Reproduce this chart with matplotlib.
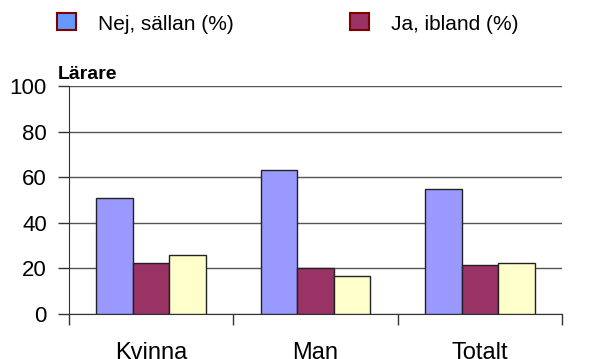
import numpy as np
import matplotlib
matplotlib.use("Agg")
from matplotlib import pyplot as plt
from matplotlib.patches import Rectangle

plt.rcParams.update({'font.family': ['Liberation Sans', 'DejaVu Sans']})

categories = ['Kvinna', 'Man', 'Totalt']
nej_sallan = [51, 63, 55]
ja_ibland = [22.5, 20, 21.5]
ja_ofta = [26, 16.5, 22.5]

fig = plt.figure(figsize=(5.99, 3.59), dpi=100)
ax = fig.add_axes([69 / 599, 1 - 314 / 359, (562 - 69) / 599, (314 - 86) / 359])

x = np.arange(len(categories))
w = 0.223
colors = ['#9999FF', '#993366', '#FFFFCC']
for i, (vals, c) in enumerate(zip([nej_sallan, ja_ibland, ja_ofta], colors)):
    ax.bar(x + (i - 1) * w, vals, width=w, color=c, edgecolor='#222222',
           linewidth=1, zorder=3)

ax.set_xlim(-0.5, 2.5)
ax.set_ylim(0, 100)
ax.set_yticks(range(0, 101, 20))
ax.yaxis.grid(True, color='#555555', linewidth=1, zorder=0)
ax.set_xticks([-0.5, 0.5, 1.5, 2.5])
ax.set_xticklabels([])
ax.set_xticks(x, minor=True)
ax.set_xticklabels(categories, minor=True, fontsize=17)
ax.tick_params(axis='x', which='minor', length=0, pad=20)
ax.tick_params(axis='x', which='major', length=8, width=1, color='#333333')
ax.tick_params(axis='y', length=8, width=1, color='#333333', labelsize=16, pad=8)
for s in ['top', 'right']:
    ax.spines[s].set_visible(False)
for s in ['left', 'bottom']:
    ax.spines[s].set_color('#333333')

fig.text(58 / 599, 1 - 79 / 359, 'Lärare', fontsize=14, fontweight='bold',
         va='baseline', ha='left')

# legend drawn by hand: two entries only
legend_items = [('Nej, sällan (%)', '#6699FF', 57, 98),
                ('Ja, ibland (%)', '#993366', 350, 391)]
for label, fc, sx, tx in legend_items:
    fig.patches.append(Rectangle((sx / 599, 1 - 30 / 359), 19 / 599, 17 / 359,
                                 transform=fig.transFigure, facecolor=fc,
                                 edgecolor='#800000', linewidth=1.5))
    fig.text(tx / 599, 1 - 24 / 359, label, fontsize=15, va='center', ha='left')

fig.savefig('out.png', dpi=100)
